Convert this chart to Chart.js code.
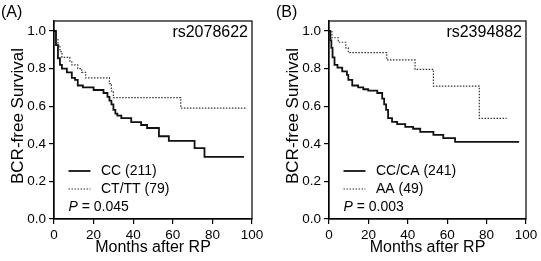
<!DOCTYPE html>
<html>
<head>
<meta charset="utf-8">
<script src="https://cdn.jsdelivr.net/npm/chart.js@4.4.1/dist/chart.umd.min.js"></script>
<style>
  html, body { margin: 0; padding: 0; background: #fff; }
  #wrap { position: relative; width: 541px; height: 261px; overflow: hidden; }
  canvas { position: absolute; top: 0; }
</style>
</head>
<body>
<div id="wrap">
  <canvas id="panel-a" width="270" height="261" style="left:0;width:270px;height:261px"></canvas>
  <canvas id="panel-b" width="266" height="261" style="left:275px;width:266px;height:261px"></canvas>
</div>
<script>
// ---- data (months after RP, BCR-free survival) ----
const xTicks = [0, 20, 40, 60, 80, 100];
const yTicks = [0, 0.2, 0.4, 0.6, 0.8, 1.0];

// (A) rs2078622
const ccMonths = [0, 1, 2, 3, 4, 6.5, 9, 10.6, 12, 14.6, 20, 25, 27, 28, 29, 30, 31, 32, 34, 39, 44, 47, 53, 58, 71, 76, 96];
const ccSurv   = [1.0, 0.925, 0.855, 0.82, 0.80, 0.78, 0.75, 0.74, 0.71, 0.70, 0.686, 0.67, 0.65, 0.63, 0.61, 0.58, 0.56, 0.55, 0.537, 0.515, 0.50, 0.484, 0.44, 0.415, 0.377, 0.33, 0.33];
const cttMonths = [0, 1, 2, 3, 4, 8, 9, 12, 14, 16, 28, 29, 30, 64, 97];
const cttSurv   = [1.0, 0.96, 0.925, 0.89, 0.86, 0.84, 0.82, 0.80, 0.78, 0.75, 0.72, 0.68, 0.645, 0.59, 0.59];

// (B) rs2394882
const ccaMonths = [0, 0.7, 1.2, 1.8, 2.8, 4.3, 6.7, 9.1, 9.8, 11.8, 14.8, 17.4, 19.9, 24.5, 27, 28, 29, 30, 32, 34.6, 38.7, 42.7, 46.3, 53, 58, 64, 96.5];
const ccaSurv   = [1.0, 0.95, 0.91, 0.86, 0.82, 0.805, 0.785, 0.766, 0.74, 0.71, 0.70, 0.69, 0.683, 0.67, 0.64, 0.61, 0.58, 0.537, 0.516, 0.505, 0.49, 0.48, 0.463, 0.447, 0.43, 0.41, 0.41];
const aaMonths = [0, 1.5, 4.7, 8.5, 9.8, 29.3, 43.7, 53, 76.3, 90.2];
const aaSurv   = [1.0, 0.964, 0.94, 0.91, 0.885, 0.846, 0.796, 0.707, 0.535, 0.535];

const Config = {
  font: "'Liberation Sans', Arial, Helvetica, sans-serif",
  ink: "#000",
  dotted: "#333",
};

Chart.defaults.font.family = Config.font;
Chart.defaults.color = Config.ink;

const zip = (xs, ys) => xs.map((x, i) => ({ x, y: ys[i] }));

// box, panel letter, legend, p-value and axis titles drawn on top
const panelText = {
  id: "panelText",
  afterDraw(chart, args, opts) {
    const c = chart.ctx;
    const a = chart.chartArea;
    c.save();
    c.strokeStyle = Config.ink;
    c.lineWidth = 1.2;
    c.strokeRect(a.left, a.top, a.right - a.left, a.bottom - a.top);

    c.fillStyle = Config.ink;
    c.textBaseline = "middle";
    c.font = `16px ${Config.font}`;
    c.textAlign = "left";
    c.fillText(opts.letter, 1, 13);
    c.textAlign = "right";
    c.fillText(opts.snp, a.right - 4, 33);

    // legend
    const lx = a.left + 14.5;
    c.font = `14px ${Config.font}`;
    c.textAlign = "left";
    opts.labels.forEach((lab, i) => {
      const y = 171 + i * 18;
      c.beginPath();
      c.setLineDash(i === 0 ? [] : [1.5, 1.5]);
      c.strokeStyle = i === 0 ? "#111" : Config.dotted;
      c.lineWidth = i === 0 ? 1.8 : 1.2;
      c.moveTo(lx, y);
      c.lineTo(lx + 22, y);
      c.stroke();
      c.fillText(lab, a.left + 47, y);
    });
    c.setLineDash([]);
    c.font = `italic 14px ${Config.font}`;
    c.fillText("P", lx, 207);
    const pw = c.measureText("P").width;
    c.font = `14px ${Config.font}`;
    c.fillText(" = " + opts.p, lx + pw, 207);

    // axis titles
    c.textAlign = "center";
    c.font = `16px ${Config.font}`;
    c.fillText("Months after RP", (a.left + a.right) / 2, 248);
    c.font = `17px ${Config.font}`;
    c.translate(a.left - 36, 116);
    c.rotate(-Math.PI / 2);
    c.fillText("BCR-free Survival", 0, 0);
    c.restore();
  },
};

const makePanel = (id, padRight, solid, dotted, text) => {
  new Chart(document.getElementById(id), {
    type: "line",
    data: {
      datasets: [
        {
          data: solid,
          borderColor: "#111",
          borderWidth: 1.8,
          stepped: true,
          pointRadius: 0,
          fill: false,
        },
        {
          data: dotted,
          borderColor: Config.dotted,
          borderWidth: 1.2,
          borderDash: [1.5, 1.5],
          stepped: true,
          pointRadius: 0,
          fill: false,
        },
      ],
    },
    options: {
      responsive: false,
      animation: false,
      events: [],
      layout: { padding: { top: 21, right: padRight, left: 0, bottom: 0 } },
      plugins: {
        legend: { display: false },
        tooltip: { enabled: false },
        panelText: text,
      },
      scales: {
        x: {
          type: "linear",
          min: 0,
          max: 100,
          afterBuildTicks: (s) => { s.ticks = xTicks.map((v) => ({ value: v })); },
          afterFit: (s) => { s.height = 42; },
          ticks: { font: { size: 13.5 }, padding: 3, color: Config.ink, maxRotation: 0 },
          grid: { drawOnChartArea: false, drawTicks: true, tickLength: 5, color: Config.ink, lineWidth: 1.2 },
          border: { display: true, color: Config.ink, width: 1.2 },
        },
        y: {
          min: 0,
          max: 1.053,
          afterBuildTicks: (s) => { s.ticks = yTicks.map((v) => ({ value: v })); },
          afterFit: (s) => { s.width = 54; },
          ticks: { font: { size: 13.5 }, padding: 3, color: Config.ink, callback: (v) => v.toFixed(1) },
          grid: { drawOnChartArea: false, drawTicks: true, tickLength: 5, color: Config.ink, lineWidth: 1.2 },
          border: { display: true, color: Config.ink, width: 1.2 },
        },
      },
    },
    plugins: [panelText],
  });
};

makePanel("panel-a", 18, zip(ccMonths, ccSurv), zip(cttMonths, cttSurv), {
  letter: "(A)", snp: "rs2078622", labels: ["CC (211)", "CT/TT (79)"], p: "0.045",
});
makePanel("panel-b", 15, zip(ccaMonths, ccaSurv), zip(aaMonths, aaSurv), {
  letter: "(B)", snp: "rs2394882", labels: ["CC/CA (241)", "AA (49)"], p: "0.003",
});
</script>
</body>
</html>
